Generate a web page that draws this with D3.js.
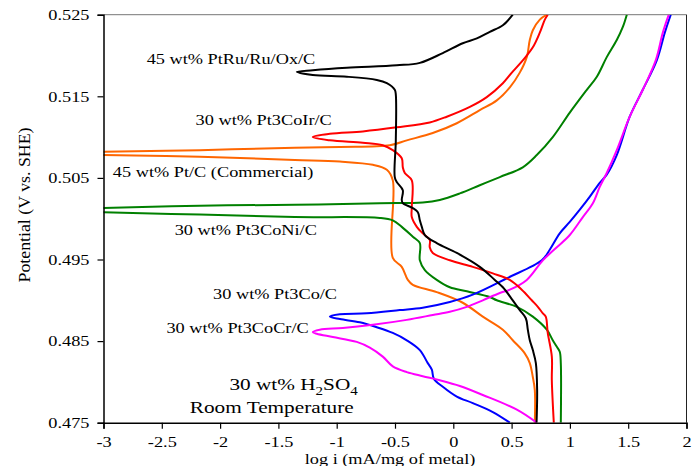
<!DOCTYPE html>
<html>
<head>
<meta charset="utf-8">
<script src="https://cdn.jsdelivr.net/npm/d3@7"></script>
<style>
  body { margin: 0; background: #fff; }
  svg text { font-family: "Liberation Serif", "Times New Roman", serif; fill: #000; }
</style>
</head>
<body>
<div id="chart"></div>
<script>
// tick values
const xTicks = [-3, -2.5, -2, -1.5, -1, -0.5, 0, 0.5, 1, 1.5, 2];
const yTicks = [0.475, 0.485, 0.495, 0.505, 0.515, 0.525];

// polarization curves, [log i, potential], read from bottom to top
const ptRuRuOx = [[0.714,0.475],[0.719,0.479],[0.708,0.4823],[0.682,0.4839],[0.656,0.4851],[0.639,0.4864],[0.622,0.4878],[0.570,0.4888],[0.510,0.4900],[0.425,0.4916],[0.356,0.4925],[0.227,0.4941],[0.030,0.4958],[-0.142,0.4970],[-0.244,0.4980],[-0.270,0.4990],[-0.287,0.4998],[-0.304,0.5008],[-0.347,0.5013],[-0.433,0.5019],[-0.442,0.5023],[-0.433,0.5035],[-0.485,0.5045],[-0.502,0.5051],[-0.493,0.5096],[-0.493,0.5152],[-0.502,0.5158],[-0.570,0.5166],[-0.656,0.5170],[-0.913,0.5174],[-1.205,0.5176],[-1.342,0.5180],[-1.205,0.5182],[-0.913,0.5185],[-0.485,0.5188],[-0.287,0.5191],[-0.090,0.5203],[0.081,0.5215],[0.202,0.5221],[0.313,0.5229],[0.425,0.5237],[0.510,0.525]];
const pt3CoIr = [[0.862,0.475],[0.845,0.4802],[0.845,0.4831],[0.810,0.4860],[0.793,0.4880],[0.768,0.4884],[0.725,0.4892],[0.673,0.4900],[0.587,0.4913],[0.484,0.4925],[0.339,0.4933],[0.167,0.4941],[-0.030,0.4949],[-0.176,0.4958],[-0.202,0.4965],[-0.202,0.4974],[-0.262,0.4982],[-0.313,0.4990],[-0.356,0.5002],[-0.356,0.5014],[-0.356,0.5047],[-0.416,0.5056],[-0.433,0.5063],[-0.442,0.5074],[-0.519,0.5084],[-0.605,0.5090],[-0.776,0.5093],[-1.059,0.5096],[-1.205,0.5100],[-1.059,0.5104],[-0.776,0.5107],[-0.485,0.5112],[-0.202,0.5118],[-0.056,0.5125],[0.142,0.5137],[0.287,0.5149],[0.425,0.5166],[0.502,0.5179],[0.596,0.5194],[0.682,0.5210],[0.742,0.5228],[0.785,0.5244],[0.810,0.525]];
const ptCommercial = [[0.699,0.475],[0.699,0.4790],[0.682,0.4806],[0.656,0.4823],[0.613,0.4835],[0.510,0.4851],[0.425,0.4864],[0.253,0.4880],[0.081,0.4897],[-0.142,0.4910],[-0.347,0.4919],[-0.390,0.4925],[-0.442,0.4941],[-0.519,0.4952],[-0.519,0.5047],[-0.570,0.5060],[-0.690,0.5066],[-0.973,0.5070],[-1.359,0.5072],[-2.174,0.5076],[-3.0,0.5078],[-3.55,0.5080],[-3.0,0.5082],[-2.174,0.5084],[-1.359,0.5087],[-0.973,0.5088],[-0.545,0.5090],[-0.399,0.5096],[-0.176,0.5105],[0.030,0.5117],[0.227,0.5133],[0.373,0.5145],[0.485,0.5161],[0.570,0.5179],[0.630,0.5198],[0.656,0.5219],[0.682,0.5231],[0.742,0.5244],[0.802,0.525]];
const pt3CoNi = [[0.922,0.475],[0.922,0.4823],[0.913,0.4837],[0.888,0.4843],[0.853,0.4851],[0.802,0.4864],[0.682,0.4880],[0.545,0.4892],[0.373,0.4900],[0.313,0.4904],[0.116,0.4911],[-0.030,0.4916],[-0.142,0.4925],[-0.244,0.4937],[-0.287,0.4949],[-0.287,0.4970],[-0.347,0.4978],[-0.442,0.4990],[-0.519,0.4998],[-0.630,0.5001],[-1.359,0.5002],[-2.174,0.5005],[-3.0,0.5008],[-3.95,0.5011],[-3.0,0.5013],[-2.174,0.5016],[-1.359,0.5017],[-0.630,0.5019],[-0.262,0.5020],[-0.116,0.5023],[0.056,0.5031],[0.227,0.5041],[0.399,0.5051],[0.596,0.5063],[0.716,0.5078],[0.853,0.5100],[0.999,0.5130],[1.145,0.5158],[1.231,0.5174],[1.316,0.5198],[1.402,0.5219],[1.454,0.5235],[1.488,0.525]];
const pt3Co = [[0.485,0.475],[0.339,0.4763],[0.167,0.4774],[0.030,0.4782],[-0.090,0.4794],[-0.167,0.4804],[-0.184,0.4815],[-0.219,0.4823],[-0.287,0.4839],[-0.399,0.4851],[-0.519,0.4860],[-0.656,0.4867],[-0.802,0.4873],[-0.973,0.4877],[-1.059,0.4880],[-0.973,0.4883],[-0.742,0.4884],[-0.459,0.4888],[-0.262,0.4891],[-0.030,0.4898],[0.167,0.4907],[0.459,0.4927],[0.759,0.4949],[0.827,0.4962],[0.913,0.4982],[0.999,0.4996],[1.085,0.5011],[1.171,0.5027],[1.256,0.5044],[1.316,0.5054],[1.402,0.5078],[1.513,0.5125],[1.625,0.5158],[1.745,0.5194],[1.814,0.5228],[1.865,0.525]];
const pt3CoCr = [[0.716,0.475],[0.545,0.4766],[0.253,0.4784],[0.056,0.4795],[-0.116,0.4802],[-0.262,0.4807],[-0.399,0.4812],[-0.519,0.4819],[-0.605,0.4831],[-0.716,0.4842],[-0.828,0.4849],[-1.033,0.4855],[-1.171,0.4859],[-1.205,0.4861],[-1.145,0.4864],[-0.948,0.4866],[-0.690,0.4870],[-0.399,0.4876],[-0.176,0.4882],[-0.030,0.4886],[0.116,0.4892],[0.253,0.4900],[0.399,0.4909],[0.485,0.4913],[0.630,0.4925],[0.768,0.4949],[0.888,0.4965],[0.999,0.4980],[1.111,0.5002],[1.197,0.5019],[1.256,0.5039],[1.316,0.5056],[1.402,0.5084],[1.513,0.5125],[1.625,0.5158],[1.736,0.5194],[1.797,0.5228],[1.848,0.525]];

const series = [
  { data: ptCommercial, color: '#ff6600' },
  { data: pt3CoNi, color: '#008000' },
  { data: pt3Co, color: '#0000ff' },
  { data: pt3CoCr, color: '#ff00ff' },
  { data: pt3CoIr, color: '#ff0000' },
  { data: ptRuRuOx, color: '#000000' },
];

// curve labels [text, x, y] in data units (left edge, baseline)
const labels = [
  ['45 wt% PtRu/Ru/Ox/C', -2.63, 0.5190],
  ['30 wt% Pt3CoIr/C', -2.21, 0.5115],
  ['45 wt% Pt/C (Commercial)', -2.92, 0.5051],
  ['30 wt% Pt3CoNi/C', -2.39, 0.4980],
  ['30 wt% Pt3Co/C', -2.06, 0.4902],
  ['30 wt% Pt3CoCr/C', -2.46, 0.4860],
];

const width = 696, height = 466;
const margin = { top: 14.7, right: 9.5, bottom: 43.3, left: 103.5 };
const sx = 1.22; // the type in the figure is widened

const svg = d3.select('#chart').append('svg')
  .attr('width', width)
  .attr('height', height);

const x = d3.scaleLinear().domain([-3, 2]).range([margin.left, width - margin.right]);
const y = d3.scaleLinear().domain([0.475, 0.525]).range([height - margin.bottom, margin.top]);

svg.append('clipPath').attr('id', 'plot')
  .append('rect')
  .attr('x', x(-3)).attr('y', y(0.525))
  .attr('width', x(2) - x(-3)).attr('height', y(0.475) - y(0.525));

// frame on top and right
svg.append('line')
  .attr('x1', x(-3)).attr('x2', x(2)).attr('y1', y(0.525)).attr('y2', y(0.525))
  .attr('stroke', '#777').attr('stroke-width', 1);
svg.append('line')
  .attr('x1', x(2)).attr('x2', x(2)).attr('y1', y(0.525)).attr('y2', y(0.475))
  .attr('stroke', '#222').attr('stroke-width', 1);

const line = d3.line()
  .curve(d3.curveCatmullRom.alpha(0.5))
  .x((d) => x(d[0]))
  .y((d) => y(d[1]));

svg.append('g')
  .attr('clip-path', 'url(#plot)')
  .selectAll('path')
  .data(series)
  .join('path')
  .attr('fill', 'none')
  .attr('stroke', (d) => d.color)
  .attr('stroke-width', 2)
  .attr('stroke-linejoin', 'round')
  .attr('d', (d) => line(d.data));

// axes
const xAxis = svg.append('g')
  .attr('transform', `translate(0,${y(0.475)})`)
  .call(d3.axisBottom(x).tickValues(xTicks).tickSize(6).tickPadding(8)
    .tickFormat((d) => String(d)));
const yAxis = svg.append('g')
  .attr('transform', `translate(${x(-3)},0)`)
  .call(d3.axisLeft(y).tickValues(yTicks).tickSize(6).tickPadding(8)
    .tickFormat(d3.format('.3f')));

[xAxis, yAxis].forEach((g) => {
  g.select('.domain').attr('stroke', '#000').attr('stroke-width', 1.5);
  g.selectAll('.tick line').attr('stroke', '#000').attr('stroke-width', 1.2);
  g.selectAll('text')
    .attr('fill', '#000')
    .style('font-family', '"Liberation Serif", serif')
    .style('font-size', '15px')
    .each(function () {
      const tx = +this.getAttribute('x') || 0;
      const ty = +this.getAttribute('y') || 0;
      d3.select(this).attr('x', 0).attr('y', 0)
        .attr('transform', `translate(${tx},${ty}) scale(${sx},1)`);
    });
});

// axis titles
svg.append('text')
  .attr('transform', `translate(390,464) scale(${sx},1)`)
  .attr('text-anchor', 'middle')
  .style('font-size', '15px')
  .text('log i (mA/mg of metal)');

svg.append('text')
  .attr('transform', `translate(30,205) scale(${sx},1) rotate(-90)`)
  .attr('text-anchor', 'middle')
  .style('font-size', '14px')
  .attr('textLength', 155)
  .attr('lengthAdjust', 'spacingAndGlyphs')
  .text('Potential (V vs. SHE)');

// curve labels
svg.append('g')
  .selectAll('text')
  .data(labels)
  .join('text')
  .attr('transform', (d) => `translate(${x(d[1])},${y(d[2])}) scale(${sx},1)`)
  .style('font-size', '15px')
  .text((d) => d[0]);

// conditions note
const note = svg.append('g').style('font-size', '17px');
const t1 = note.append('text')
  .attr('transform', `translate(${x(-1.92)},${y(0.4790)}) scale(1.25,1)`);
t1.append('tspan').text('30 wt% H');
t1.append('tspan').attr('dy', 5).style('font-size', '12px').text('2');
t1.append('tspan').attr('dy', -5).text('SO');
t1.append('tspan').attr('dy', 5).style('font-size', '12px').text('4');
note.append('text')
  .attr('transform', `translate(${x(-2.26)},${y(0.4762)}) scale(1.25,1)`)
  .text('Room Temperature');
</script>
</body>
</html>
